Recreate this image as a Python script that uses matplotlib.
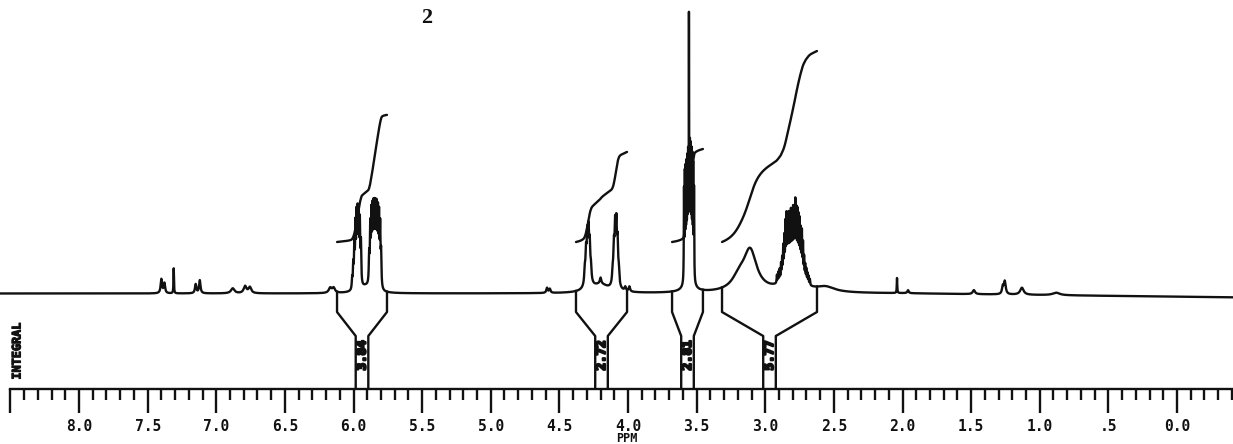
import numpy as np
import matplotlib
matplotlib.use("Agg")
import matplotlib.pyplot as plt
import matplotlib.patheffects as pe
from matplotlib.ticker import FixedLocator, FixedFormatter, MultipleLocator

# ---------------------------------------------------------------------------
# 1H NMR spectrum of compound 2 (chemical shift in ppm, heights in trace units)
# ---------------------------------------------------------------------------

# small isolated signals: shift, height, half-width
minor_ppm = [7.400, 7.378, 7.310, 7.150, 7.120, 6.880, 6.790, 6.755, 6.170, 6.145,
             4.590, 4.570, 4.200, 4.020, 3.990, 2.040, 1.960, 1.480, 1.270, 1.255,
             1.130, 0.880]
minor_h = [14, 10, 25, 9, 13, 5, 7, 6, 5, 5,
           5, 4, 6, 4, 5, 15, 3, 4, 7, 13,
           7, 2.5]
minor_w = [0.006, 0.006, 0.002, 0.006, 0.006, 0.015, 0.012, 0.012, 0.012, 0.012,
           0.006, 0.006, 0.006, 0.006, 0.006, 0.002, 0.006, 0.010, 0.006, 0.008,
           0.015, 0.030]

# olefinic multiplets near 5.9 ppm
olefin_a_ppm = [6.010, 6.002, 5.994, 5.986, 5.978, 5.970, 5.962, 5.954, 5.946]
olefin_a_h = [10, 22, 40, 56, 64, 66, 64, 58, 40]
olefin_b_ppm = [5.886, 5.878, 5.870, 5.862, 5.854, 5.846, 5.838, 5.830, 5.822, 5.814,
                5.806, 5.799]
olefin_b_h = [28, 54, 64, 66, 68, 68, 68, 68, 66, 64, 56, 32]

# OCH2 multiplets near 4.2 ppm
och_a_ppm = [4.315, 4.306, 4.297, 4.288, 4.279, 4.270]
och_a_h = [13, 27, 39, 42, 32, 13]
och_b_ppm = [4.112, 4.103, 4.094, 4.085, 4.076, 4.067]
och_b_h = [11, 33, 48, 50, 37, 13]

# methoxy / CH2 envelope near 3.55 ppm
ome_ppm = [3.592, 3.586, 3.580, 3.574, 3.568, 3.562, 3.549, 3.543, 3.537, 3.531, 3.525, 3.519]
ome_h = [88, 98, 98, 98, 98, 98, 108, 108, 108, 108, 104, 88]
ome_spike_ppm = 3.556
ome_spike_h = 234

# aliphatic multiplet near 2.8 ppm
alk_ppm = [2.915, 2.905, 2.895, 2.885, 2.877, 2.869, 2.861, 2.853, 2.845, 2.837,
           2.829, 2.821, 2.813, 2.805, 2.797, 2.789, 2.781, 2.773, 2.765, 2.757,
           2.749, 2.741, 2.733, 2.725, 2.717, 2.709, 2.701, 2.693, 2.685, 2.675]
alk_h = [8, 10, 12, 16, 20, 30, 38, 50, 56, 52,
         54, 50, 56, 52, 58, 56, 66, 58, 58, 54,
         52, 44, 44, 34, 22, 16, 13, 10, 8, 6]

# broad underlying humps: shift, height, half-width
broad_ppm = [5.910, 4.290, 4.090, 4.200, 3.555, 3.190, 3.110, 2.800, 2.560]
broad_h = [6, 10, 8, 8, 28, 12, 40, 14, 5]
broad_w = [0.050, 0.025, 0.020, 0.070, 0.022, 0.060, 0.058, 0.090, 0.080]

# integral regions (start, end ppm) and integral values
integral_ranges = [(6.120, 5.756), (4.379, 4.007), (3.679, 3.454), (3.315, 2.623)]
integral_values = [3.84, 2.72, 2.81, 5.77]

# axis ticks
major_ticks = [8.5, 8.0, 7.5, 7.0, 6.5, 6.0, 5.5, 5.0, 4.5, 4.0, 3.5, 3.0, 2.5, 2.0, 1.5, 1.0, 0.5, 0.0]
major_labels = ['', '8.0', '7.5', '7.0', '6.5', '6.0', '5.5', '5.0', '4.5', '4.0', '3.5',
                '3.0', '2.5', '2.0', '1.5', '1.0', '.5', '0.0']

# ---------------------------------------------------------------------------
ppm = np.linspace(8.60, -0.42, 48000)


def lorentz(center, height, hwhm):
    return height / (1.0 + ((ppm - center) / hwhm) ** 2)


spec = np.zeros_like(ppm)
for c, h, w in zip(minor_ppm, minor_h, minor_w):
    spec += lorentz(c, h, w)
for c, h in zip(olefin_a_ppm, olefin_a_h):
    spec += lorentz(c, h, 0.0030)
for c, h in zip(olefin_b_ppm, olefin_b_h):
    spec += lorentz(c, h, 0.0030)
for c, h in zip(och_a_ppm, och_a_h):
    spec += lorentz(c, h, 0.0045)
for c, h in zip(och_b_ppm, och_b_h):
    spec += lorentz(c, h, 0.0045)
for c, h in zip(ome_ppm, ome_h):
    spec += lorentz(c, h, 0.0016)
spec += lorentz(ome_spike_ppm, ome_spike_h, 0.0012)
for c, h in zip(alk_ppm, alk_h):
    spec += lorentz(c, h, 0.0024)
for c, h, w in zip(broad_ppm, broad_h, broad_w):
    spec += lorentz(c, h, w)

# slow baseline drift toward the high-field end
drift = -1.6 * np.clip(2.0 - ppm, 0.0, None)
trace = spec + drift

# ---------------------------------------------------------------------------
fig = plt.figure(figsize=(12.33, 4.44), dpi=100)
ax = fig.add_axes([0.0, 55 / 444, 1.0, 389 / 444])
ax.set_xlim(8.5756, -0.408)
ax.set_ylim(-95.5, 293.5)

ink = '#111111'
lw = 1.7
ax.plot(ppm, trace, color=ink, lw=lw, solid_joinstyle='round')

# integral traces and the bracket/box marks below the spectrum
integral_offset = 51.5
px_per_unit = 33.1
half_box = 6.3 / 137.25
for (p0, p1), val in zip(integral_ranges, integral_values):
    sel = (ppm <= p0) & (ppm >= p1)
    seg = spec[sel]
    cum = np.cumsum(seg)
    cum = cum / cum[-1]
    ax.plot(ppm[sel], integral_offset + val * px_per_unit * cum,
            color=ink, lw=lw, solid_capstyle='round')

    mid = 0.5 * (p0 + p1)
    top0 = np.interp(p0, ppm[::-1], trace[::-1])
    top1 = np.interp(p1, ppm[::-1], trace[::-1])
    ax.plot([p0, p0, mid + half_box, mid + half_box],
            [top0, -18.5, -42.5, -95.5], color=ink, lw=lw)
    ax.plot([p1, p1, mid - half_box, mid - half_box],
            [top1, -18.5, -42.5, -95.5], color=ink, lw=lw)
    ax.text(mid, -62, f'{val:.2f}', rotation=90, ha='center', va='center',
            family='DejaVu Sans Mono', weight='bold', size=9, color=ink,
            path_effects=[pe.withStroke(linewidth=1.6, foreground=ink)])

# ppm axis
for side in ('top', 'left', 'right'):
    ax.spines[side].set_visible(False)
ax.spines['bottom'].set_bounds(8.5, -0.408)
ax.spines['bottom'].set_linewidth(lw)
ax.spines['bottom'].set_color(ink)
ax.xaxis.set_major_locator(FixedLocator(major_ticks))
ax.xaxis.set_major_formatter(FixedFormatter(major_labels))
ax.xaxis.set_minor_locator(MultipleLocator(0.1))
ax.tick_params(axis='x', which='major', length=17.3, width=lw, direction='out',
               pad=4.0, labelsize=10.5, colors=ink)
ax.tick_params(axis='x', which='minor', length=8.0, width=lw, direction='out', colors=ink)
ax.set_yticks([])
for lab in ax.get_xticklabels():
    lab.set_family('DejaVu Sans Mono')
    lab.set_weight('bold')

fig.text(627 / 1233, 1 - 438 / 444, 'PPM', ha='center', va='center',
         family='DejaVu Sans Mono', weight='bold', size=8.5, color=ink)
fig.text(17 / 1233, 1 - 351 / 444, 'INTEGRAL', rotation=90, ha='center', va='center',
         family='DejaVu Sans Mono', weight='bold', size=8.5, color=ink,
         path_effects=[pe.withStroke(linewidth=0.8, foreground=ink)])
fig.text(427 / 1233, 1 - 18 / 444, '2', ha='center', va='center',
         family='Liberation Serif', weight='bold', size=16, color=ink)

fig.savefig('out.png', dpi=100, facecolor='white')
